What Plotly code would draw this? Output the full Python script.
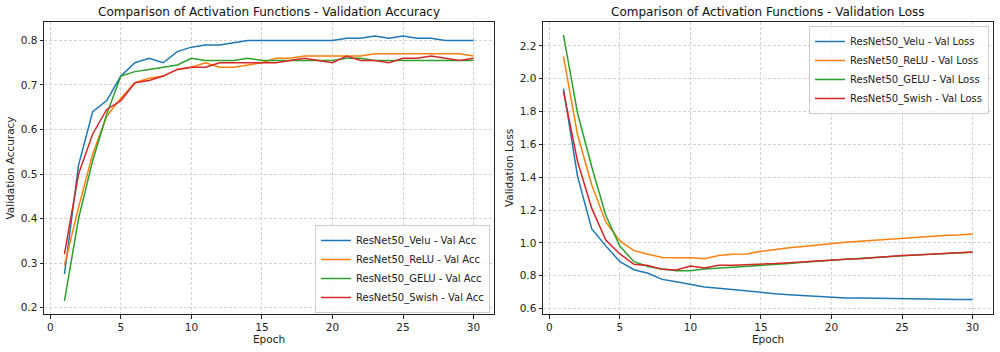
import plotly.graph_objects as go
from plotly.subplots import make_subplots

epochs = list(range(1, 31))

acc_velu = [0.275, 0.52, 0.64, 0.665, 0.72, 0.75, 0.76, 0.75, 0.775, 0.785,
            0.79, 0.79, 0.795, 0.80, 0.80, 0.80, 0.80, 0.80, 0.80, 0.80,
            0.805, 0.805, 0.81, 0.805, 0.81, 0.805, 0.805, 0.80, 0.80, 0.80]
acc_relu = [0.295, 0.425, 0.545, 0.63, 0.67, 0.705, 0.715, 0.72, 0.735, 0.74,
            0.75, 0.74, 0.74, 0.745, 0.75, 0.76, 0.76, 0.765, 0.765, 0.765,
            0.765, 0.765, 0.77, 0.77, 0.77, 0.77, 0.77, 0.77, 0.77, 0.765]
acc_gelu = [0.215, 0.40, 0.53, 0.635, 0.72, 0.73, 0.735, 0.74, 0.745, 0.76,
            0.755, 0.755, 0.755, 0.76, 0.755, 0.755, 0.755, 0.755, 0.755, 0.755,
            0.76, 0.76, 0.755, 0.755, 0.755, 0.755, 0.755, 0.755, 0.755, 0.755]
acc_swish = [0.32, 0.50, 0.59, 0.645, 0.665, 0.705, 0.71, 0.72, 0.735, 0.74,
             0.74, 0.75, 0.75, 0.75, 0.75, 0.75, 0.755, 0.76, 0.755, 0.75,
             0.765, 0.755, 0.755, 0.75, 0.76, 0.76, 0.765, 0.76, 0.755, 0.76]

loss_velu = [1.94, 1.405, 1.087, 0.982, 0.886, 0.837, 0.815, 0.778, 0.764, 0.748,
             0.732, 0.724, 0.715, 0.707, 0.697, 0.691, 0.685, 0.679, 0.675, 0.671,
             0.665, 0.665, 0.663, 0.663, 0.659, 0.659, 0.657, 0.657, 0.655, 0.655]
loss_relu = [2.137, 1.659, 1.354, 1.128, 1.012, 0.953, 0.931, 0.911, 0.909, 0.909,
             0.904, 0.923, 0.931, 0.933, 0.949, 0.961, 0.970, 0.978, 0.988, 0.996,
             1.004, 1.010, 1.016, 1.024, 1.030, 1.035, 1.041, 1.045, 1.049, 1.055]
loss_gelu = [2.267, 1.79, 1.466, 1.169, 0.98, 0.886, 0.856, 0.841, 0.831, 0.831,
             0.841, 0.846, 0.85, 0.856, 0.862, 0.868, 0.874, 0.882, 0.886, 0.894,
             0.90, 0.906, 0.913, 0.919, 0.923, 0.927, 0.931, 0.935, 0.939, 0.943]
loss_swish = [1.923, 1.496, 1.212, 1.018, 0.933, 0.87, 0.862, 0.839, 0.835, 0.86,
              0.848, 0.864, 0.864, 0.866, 0.87, 0.874, 0.88, 0.886, 0.89, 0.896,
              0.90, 0.904, 0.911, 0.915, 0.923, 0.927, 0.931, 0.937, 0.941, 0.945]

models = ["ResNet50_Velu", "ResNet50_ReLU", "ResNet50_GELU", "ResNet50_Swish"]
colors = ["#1f77b4", "#ff7f0e", "#2ca02c", "#d62728"]
acc_series = [acc_velu, acc_relu, acc_gelu, acc_swish]
loss_series = [loss_velu, loss_relu, loss_gelu, loss_swish]

FONT = "DejaVu Sans"

fig = make_subplots(rows=1, cols=2)

for name, color, acc in zip(models, colors, acc_series):
    fig.add_trace(go.Scatter(x=epochs, y=acc, mode="lines", name=name + " - Val Acc",
                             line=dict(color=color, width=1.5), legend="legend"),
                  row=1, col=1)
for name, color, loss in zip(models, colors, loss_series):
    fig.add_trace(go.Scatter(x=epochs, y=loss, mode="lines", name=name + " - Val Loss",
                             line=dict(color=color, width=1.5), legend="legend2"),
                  row=1, col=2)

axis_style = dict(showline=True, linecolor="#222", linewidth=1, mirror=True,
                  ticks="outside", ticklen=3.5, tickcolor="#222",
                  showgrid=True, gridcolor="#d3d3d3", griddash="3px,2px", gridwidth=0.8,
                  zeroline=False, automargin=False,
                  tickfont=dict(size=10.5, color="#222"),
                  title_font=dict(size=10.5, color="#222"))

y_bottom = 1 - 314 / 352
y_top = 1 - 22 / 352

fig.update_xaxes(**axis_style, range=[-0.45, 31.45], tick0=0, dtick=5,
                 title_text="Epoch", title_standoff=2)
fig.update_xaxes(domain=[0.044, 0.494], row=1, col=1)
fig.update_xaxes(domain=[0.543, 0.993], row=1, col=2)
fig.update_yaxes(**axis_style, domain=[y_bottom, y_top], title_standoff=4)
fig.update_yaxes(range=[0.1855, 0.8415], dtick=0.1, tickformat=".1f",
                 title_text="Validation Accuracy", row=1, col=1)
fig.update_yaxes(range=[0.567, 2.346], dtick=0.2, tickformat=".1f",
                 title_text="Validation Loss", row=1, col=2)

legend_style = dict(bgcolor="rgba(255,255,255,0.8)", bordercolor="#cccccc", borderwidth=1,
                    font=dict(size=10, color="#222"), xanchor="right",
                    itemwidth=30, tracegroupgap=0)

fig.update_layout(
    width=1000, height=352,
    margin=dict(l=0, r=0, t=0, b=0),
    paper_bgcolor="white", plot_bgcolor="white",
    font=dict(family=FONT, color="#222"),
    legend=dict(**legend_style, x=0.49, y=1 - 313 / 352, yanchor="bottom"),
    legend2=dict(**legend_style, x=0.989, y=1 - 26 / 352, yanchor="top"),
    annotations=[
        dict(text="Comparison of Activation Functions - Validation Accuracy",
             x=0.269, y=1 - 12 / 352, xref="paper", yref="paper", showarrow=False,
             font=dict(size=12, color="#111"), xanchor="center", yanchor="middle"),
        dict(text="Comparison of Activation Functions - Validation Loss",
             x=0.768, y=1 - 12 / 352, xref="paper", yref="paper", showarrow=False,
             font=dict(size=12, color="#111"), xanchor="center", yanchor="middle"),
    ],
)

# the page body has a default 8px margin; drop it so the figure fills the window
fig.write_html("out.html", config={"displayModeBar": False},
               post_script="document.body.style.margin='0';")
